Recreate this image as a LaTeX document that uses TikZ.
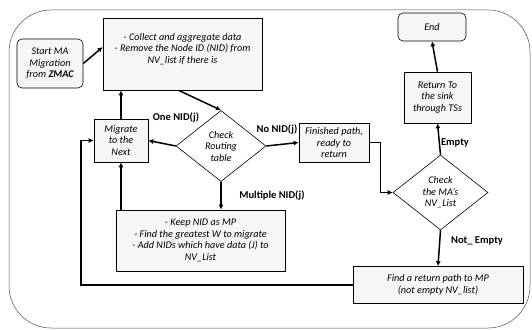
\documentclass[tikz,border=0pt]{standalone}
\usepackage{fontspec}
\setmainfont{Carlito}
\usetikzlibrary{shapes.geometric,arrows.meta}
\begin{document}
\begin{tikzpicture}[x=1pt,y=-1pt,font=\fontsize{10.2}{11.5}\selectfont\itshape,
    box/.style={draw,fill=gray!7,line width=0.6pt,align=center,inner sep=1pt},
    rbox/.style={box,rounded corners=5pt},
    dia/.style={draw,fill=white,diamond,aspect=1.27,inner sep=0pt,line width=0.6pt,align=center},
    arr/.style={line width=1.5pt,-{Latex[length=5pt,width=5pt]}},
    lab/.style={font=\fontsize{10.5}{12}\selectfont\bfseries}]
    \useasboundingbox (0,0) rectangle (532,329);
    \draw[gray!60!black,line width=0.5pt,rounded corners=42pt] (9,10) rectangle (530,328);
    \node[rbox,minimum width=66pt,minimum height=49pt] (start) at (50,63.5) {Start MA\\Migration\\from \textbf{ZMAC}};
    \node[box,minimum width=159pt,minimum height=72pt] (collect) at (182.5,54) {- Collect and aggregate data\\- Remove the Node ID (NID) from\\NV\_list if there is\\~};
    \node[box,minimum width=54pt,minimum height=43pt] (migrate) at (121,140.5) {Migrate\\to the\\Next};
    \node[dia,minimum width=90pt,minimum height=71pt] (check) at (221,146) {Check\\Routing\\table};
    \node[box,minimum width=70pt,minimum height=39pt] (finished) at (334,142.5) {Finished path,\\ready to\\return};
    \node[box,minimum width=169pt,minimum height=61pt] (keep) at (200.5,240.5) {- Keep NID as MP\\- Find the greatest W to migrate\\- Add NIDs which have data (J) to\\NV\_List};
    \node[dia,minimum width=95pt,minimum height=75pt] (check2) at (440.5,192.5) {Check\\the MA’s\\NV\_List};
    \node[box,minimum width=67pt,minimum height=51pt] (ret) at (437.5,97.5) {Return To\\the sink\\through TSs};
    \node[rbox,minimum width=68pt,minimum height=28pt] (endbox) at (432,27) {End};
    \node[box,minimum width=170pt,minimum height=37pt] (find) at (438,285) {Find a return path to MP\\(not empty NV\_list)};
    \node[lab] (one) at (176,117) {One NID(j)};
    \node[lab] (no) at (277,129) {No NID(j)};
    \node[lab] (multi) at (272,195) {Multiple NID(j)};
    \node[lab] (empty) at (455,143) {Empty};
    \node[lab] (notempty) at (477,241) {Not\_ Empty};
    \draw[arr] (start.east) -- ([yshift=7pt]collect.west);
    \draw[arr] ([xshift=-4pt]collect.south) -- (check.north);
    \draw[arr] (migrate.north) -- (migrate.north |- collect.south);
    \draw[arr] (check.west) -- (migrate.east);
    \draw[arr] (check.east) -- (finished.west);
    \draw[arr] (check.south) -- (check.south |- keep.north);
    \draw[arr] (keep.north -| migrate.south) -- (migrate.south);
    \draw[arr] (finished.east) -- ++(11,0) |- (check2.west);
    \draw[arr] (check2.north) -- (ret.south);
    \draw[arr] (ret.north) -- (endbox.south);
    \draw[arr] (check2.south) -- (find.north);
    \coordinate (back) at (81,285);
    \draw[arr] (find.west) -- (back) |- (migrate.west);
\end{tikzpicture}
\end{document}
